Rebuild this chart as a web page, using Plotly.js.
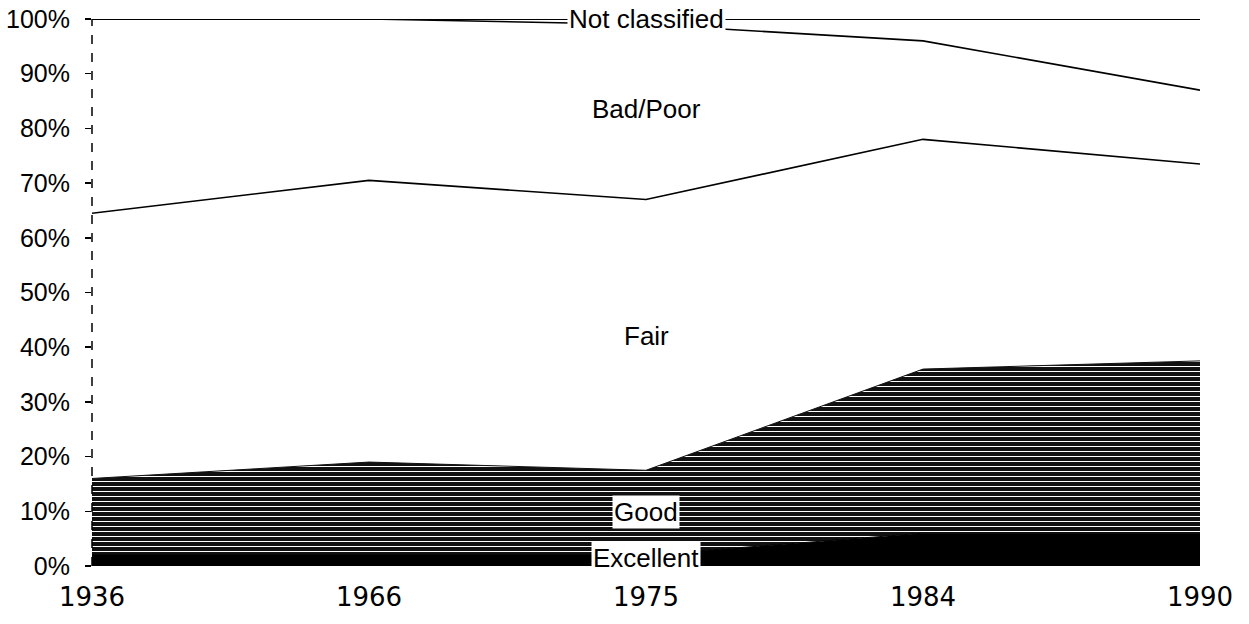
<!DOCTYPE html>
<html><head><meta charset="utf-8">
<script src="https://cdn.plot.ly/plotly-3.0.1.min.js"></script>
<style>html,body{margin:0;padding:0;background:#fff}#chart{width:1249px;height:624px}</style>
</head><body><div id="chart"></div>
<script>
const years = ['1936','1966','1975','1984','1990'];
const excellent = [2, 2, 2, 6, 6];
const good = [14, 17, 15.5, 30, 31.5];
const fair = [48.5, 51.5, 49.5, 42, 36];
const badPoor = [35.5, 29.5, 32, 18, 13.5];
const notClassified = [0, 0, 1, 4, 13];
const yTicks = [0,10,20,30,40,50,60,70,80,90,100];
const yTickText = yTicks.map(v => v + '%');
const labelNames = ['Not classified','Bad/Poor','Fair','Good','Excellent'];
const labelY = [100, 83.5, 42, 9.8, 1.5];

const SANS = "'Liberation Sans', Arial, Helvetica, sans-serif";
const mkFont = (s) => ({family: SANS, size: s, color: '#000'});

const base = {x: years, type: 'scatter', mode: 'lines', stackgroup: 'one', hoverinfo: 'skip'};
const traces = [
  Object.assign({}, base, {name:'Excellent', y: excellent, line:{color:'#000', width:1}, fillcolor:'#000'}),
  Object.assign({}, base, {name:'Good', y: good, line:{color:'#111', width:1}, fillcolor:'#1a1a1a',
      fillpattern:{shape:'-', bgcolor:'#111', fgcolor:'#ffffff', size:5, solidity:0.2}}),
  Object.assign({}, base, {name:'Fair', y: fair, line:{color:'#000', width:1.6}, fillcolor:'rgba(255,255,255,0)'}),
  Object.assign({}, base, {name:'Bad/Poor', y: badPoor, line:{color:'#000', width:1.6}, fillcolor:'rgba(255,255,255,0)'}),
  Object.assign({}, base, {name:'Not classified', y: notClassified, line:{color:'#000', width:1.8}, fillcolor:'rgba(255,255,255,0)'})
];

const annotations = labelNames.map((t, i) => {
  const a = {xref:'x', yref:'y', x: 2, y: labelY[i], text: t, showarrow: false, font: mkFont(26), borderpad: 1};
  if (t === 'Not classified' || t === 'Good' || t === 'Excellent') a.bgcolor = '#ffffff';
  return a;
});

const layout = {
  width:1249, height:624,
  margin:{l:92, r:49, t:19, b:58},
  paper_bgcolor:'#fff', plot_bgcolor:'#fff',
  showlegend:false,
  font: mkFont(24),
  xaxis:{type:'category', range:[0,4], showgrid:false, zeroline:false, showline:false,
    ticks:'', tickfont:{family:"'DejaVu Sans', sans-serif", size:26, color:'#000'}, ticklabelstandoff:13},
  yaxis:{range:[0,100], tickvals:yTicks, ticktext:yTickText, showgrid:false, zeroline:false,
    showline:false, ticks:'outside', ticklen:6, tickcolor:'#000', tickwidth:1.5, tickfont:mkFont(25),
    ticklabelstandoff:10},
  shapes:[{type:'line', xref:'paper', yref:'y', x0:0, x1:0, y0:0, y1:100,
    line:{color:'#000', width:1.5, dash:'dash'}}],
  annotations: annotations
};
Plotly.newPlot('chart', traces, layout, {staticPlot:true});
</script></body></html>
